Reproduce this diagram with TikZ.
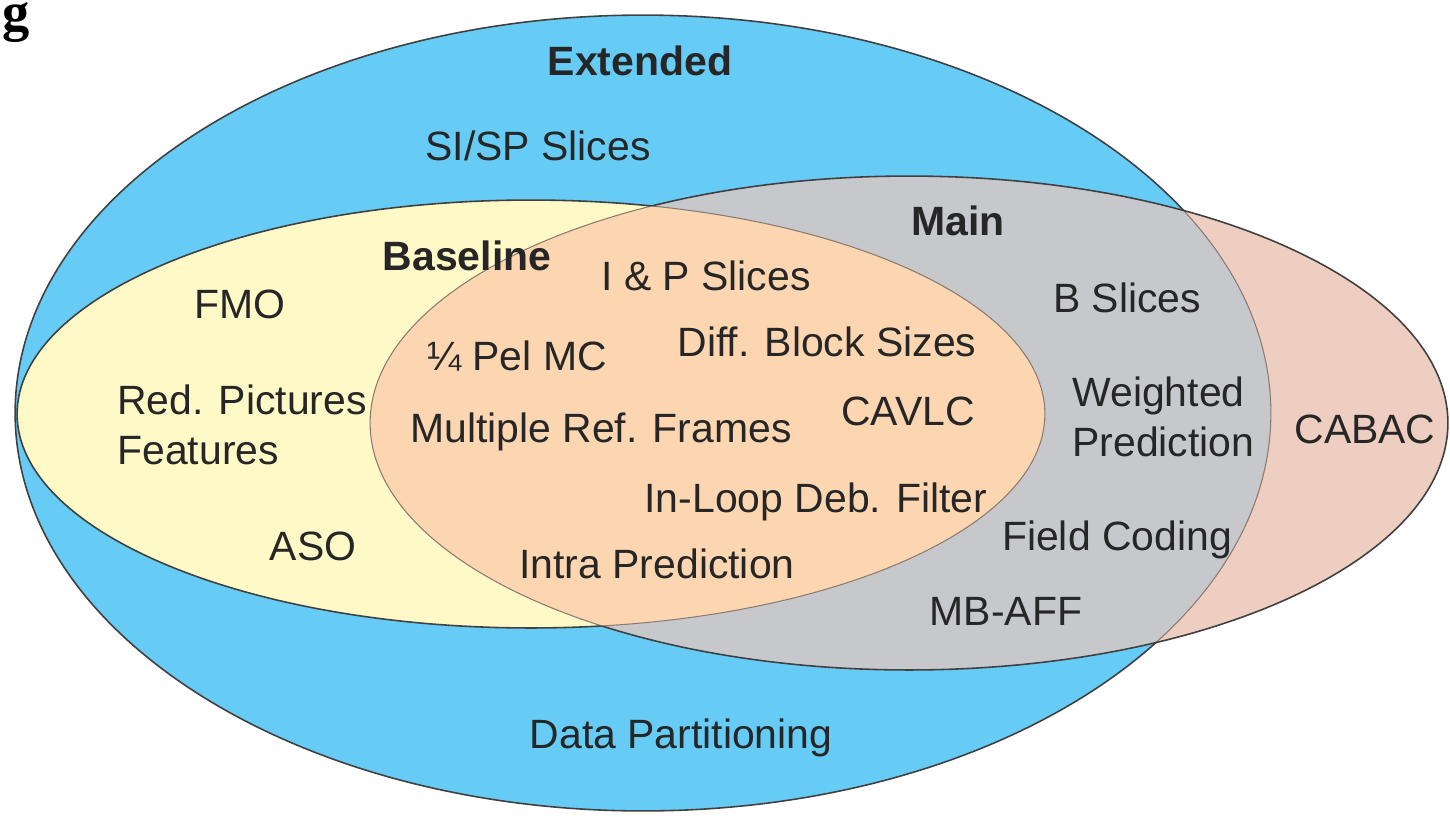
\documentclass[tikz,border=0pt]{standalone}
\usepackage{fontspec}
\setmainfont{Liberation Sans}
\newfontfamily\capserif{Liberation Serif}
\definecolor{extblue}{HTML}{66CCF5}
\definecolor{cabpink}{HTML}{EECEC0}
\definecolor{maingray}{HTML}{C7C8CC}
\definecolor{baseyellow}{HTML}{FFF9C8}
\definecolor{coreorange}{HTML}{FCD6B0}
\definecolor{seamline}{HTML}{8A7A70}
\newcommand\extrim{(643,413) ellipse [x radius=12.56cm,y radius=7.96cm]}
\newcommand\mainrim{(909,423) ellipse [x radius=10.78cm,y radius=4.94cm]}
\newcommand\baserim{(531,414) ellipse [x radius=10.28cm,y radius=4.28cm]}
\begin{document}
\begin{tikzpicture}[x=0.02cm,y=-0.02cm,
    lbl/.style={font=\fontsize{23.3}{28.5}\selectfont,text=black!85,inner sep=0pt,anchor=base},
    hdr/.style={lbl,font=\fontsize{23.3}{28.5}\selectfont\bfseries},
    rim/.style={draw=black!75,line width=0.9pt},
    seam/.style={draw=seamline,line width=0.6pt}]
    \useasboundingbox (0,0) rectangle (1450,816);
    \filldraw[fill=extblue,rim] \extrim;
    \fill[cabpink] \mainrim;
    \begin{scope}
        \clip \extrim;
        \fill[maingray] \mainrim;
    \end{scope}
    \fill[baseyellow] \baserim;
    \begin{scope}
        \clip \mainrim;
        \fill[coreorange] \baserim;
        \draw[seam] \extrim;
        \draw[seam] \baserim;
    \end{scope}
    \begin{scope}
        \clip \baserim;
        \draw[seam] \mainrim;
    \end{scope}
    \begin{scope}[even odd rule]
        \clip (-10,-10) rectangle (1460,826) \baserim;
        \draw[rim] \mainrim;
    \end{scope}
    \begin{scope}[even odd rule]
        \clip (-10,-10) rectangle (1460,826) \mainrim;
        \draw[rim] \baserim;
    \end{scope}

    \node[inner sep=0pt,anchor=base west,font=\fontsize{31}{36}\selectfont\capserif\bfseries] (cap) at (2,30) {g};

    \node[hdr] (extended) at (640,75) {Extended};
    \node[hdr] (main) at (958,235) {Main};
    \node[hdr] (baseline) at (467,270) {Baseline};

    \node[lbl] (sisp) at (538,160) {SI/SP Slices};
    \node[lbl] (ipslices) at (706,290) {I \& P Slices};
    \node[lbl] (fmo) at (240,318) {FMO};
    \node[lbl] (bslices) at (1127,312) {B Slices};
    \node[lbl] (pelmc) at (517,370) {¼ Pel MC};
    \node[lbl] (blocksizes) at (827,356) {Diff. Block Sizes};
    \node[lbl,anchor=west,align=left] (redpic) at (117,425) {Red. Pictures\\Features};
    \node[lbl] (multiref) at (601,442) {Multiple Ref. Frames};
    \node[lbl] (cavlc) at (908,425) {CAVLC};
    \node[lbl,anchor=west,align=left] (weighted) at (1072,417) {Weighted\\Prediction};
    \node[lbl] (cabac) at (1365,443) {CABAC};
    \node[lbl] (debfilter) at (816,512) {In-Loop Deb. Filter};
    \node[lbl] (fieldcod) at (1117,550) {Field Coding};
    \node[lbl] (aso) at (313,560) {ASO};
    \node[lbl] (intra) at (657,578) {Intra Prediction};
    \node[lbl] (mbaff) at (1006,625) {MB-AFF};
    \node[lbl] (datapart) at (681,748) {Data Partitioning};
\end{tikzpicture}
\end{document}
